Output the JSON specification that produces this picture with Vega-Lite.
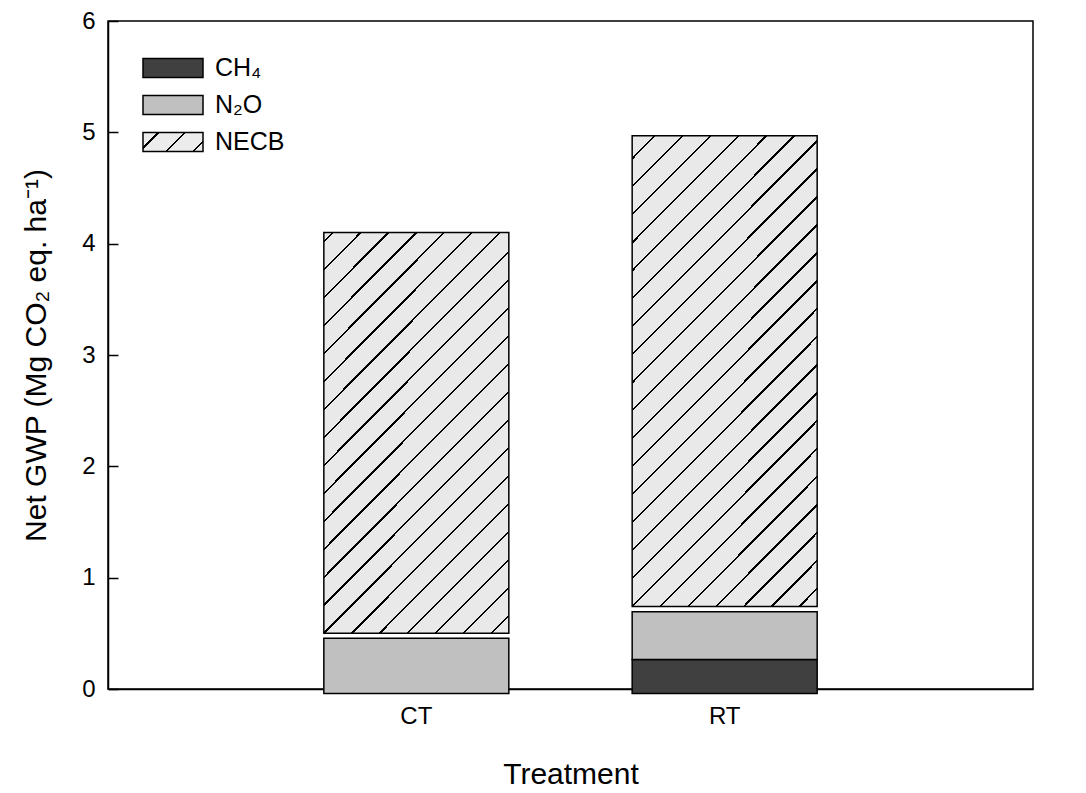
{
  "$schema": "https://vega.github.io/schema/vega-lite/v6.json",
  "autosize": "none",
  "width": 925,
  "height": 668,
  "padding": {"left": 108, "top": 21, "right": 53, "bottom": 104},
  "background": "white",
  "config": {
    "font": "Liberation Sans",
    "view": {"stroke": "black", "strokeWidth": 1.5},
    "axis": {"labelColor": "black", "titleColor": "black", "domainColor": "black", "tickColor": "black", "grid": false, "titleFontWeight": "normal", "labelFont": "Liberation Sans", "titleFont": "Liberation Sans"}
  },
  "data": {
    "values": [
      {"treatment": "CT", "component": "N₂O", "low": -0.04, "high": 0.456},
      {"treatment": "CT", "component": "NECB", "low": 0.50, "high": 4.10},
      {"treatment": "RT", "component": "CH₄", "low": -0.04, "high": 0.265},
      {"treatment": "RT", "component": "N₂O", "low": 0.265, "high": 0.694},
      {"treatment": "RT", "component": "NECB", "low": 0.74, "high": 4.97}
    ]
  },
  "encoding": {
    "x": {
      "field": "treatment", "type": "nominal", "sort": ["CT", "RT"],
      "scale": {"paddingInner": 0.4, "paddingOuter": 0.7},
      "axis": {"title": "Treatment", "labelAngle": 0, "ticks": false, "domain": true, "domainWidth": 1.5, "labelFontSize": 24, "labelPadding": 15, "titleFontSize": 30, "titlePadding": 31}
    },
    "y": {
      "field": "low", "type": "quantitative",
      "scale": {"domain": [0, 6], "nice": false, "zero": false},
      "axis": {"title": "Net GWP (Mg CO₂ eq. ha⁻¹)", "values": [0, 1, 2, 3, 4, 5, 6], "tickSize": -10, "tickWidth": 1.5, "domainWidth": 1.5, "labelFontSize": 24, "labelPadding": 23, "titleFontSize": 30, "titlePadding": 30}
    },
    "y2": {"field": "high"}
  },
  "layer": [
    {
      "transform": [{"filter": "datum.component !== 'NECB'"}],
      "mark": {"type": "bar", "stroke": "black", "strokeWidth": 1.5},
      "encoding": {
        "color": {
          "field": "component", "type": "nominal",
          "scale": {"domain": ["CH₄", "N₂O", "NECB"], "range": ["#404040", "#c0c0c0", {"expr": "{gradient: 'linear', x1: 0, y1: 0, x2: 1.1974, y2: 0.3832, stops: [{offset: 0, color: '#ececec'}, {offset: 0.1807, color: '#ececec'}, {offset: 0.1807, color: '#000000'}, {offset: 0.2107, color: '#000000'}, {offset: 0.2107, color: '#ececec'}, {offset: 0.5178, color: '#ececec'}, {offset: 0.5178, color: '#000000'}, {offset: 0.5478, color: '#000000'}, {offset: 0.5478, color: '#ececec'}, {offset: 0.8549, color: '#ececec'}, {offset: 0.8549, color: '#000000'}, {offset: 0.8849, color: '#000000'}, {offset: 0.8849, color: '#ececec'}, {offset: 1, color: '#ececec'}]}"}]},
          "legend": {
            "title": null, "orient": "none", "legendX": 49, "legendY": 31,
            "labelFontSize": 25, "labelColor": "black", "labelOffset": 26,
            "symbolType": "M-2,-0.64H2V0.64H-2Z", "symbolSize": 900,
            "symbolStrokeColor": "black", "symbolStrokeWidth": 1.5, "symbolOpacity": 1,
            "rowPadding": 8, "padding": 0
          }
        }
      }
    },
    {
      "transform": [{"filter": "datum.component === 'NECB' && datum.treatment === 'CT'"}],
      "mark": {"type": "bar", "stroke": "black", "strokeWidth": 1.5,
        "fill": {"gradient": "linear", "x1": 0, "y1": 0, "x2": 0.5588, "y2": 1.2047, "stops": [
          {"offset": 0, "color": "#e9e9e9"},
          {"offset": 0.0133, "color": "#e9e9e9"}, {"offset": 0.0133, "color": "#000000"}, {"offset": 0.0173, "color": "#000000"}, {"offset": 0.0173, "color": "#e9e9e9"},
          {"offset": 0.0610, "color": "#e9e9e9"}, {"offset": 0.0610, "color": "#000000"}, {"offset": 0.0650, "color": "#000000"}, {"offset": 0.0650, "color": "#e9e9e9"},
          {"offset": 0.1087, "color": "#e9e9e9"}, {"offset": 0.1087, "color": "#000000"}, {"offset": 0.1127, "color": "#000000"}, {"offset": 0.1127, "color": "#e9e9e9"},
          {"offset": 0.1564, "color": "#e9e9e9"}, {"offset": 0.1564, "color": "#000000"}, {"offset": 0.1604, "color": "#000000"}, {"offset": 0.1604, "color": "#e9e9e9"},
          {"offset": 0.2041, "color": "#e9e9e9"}, {"offset": 0.2041, "color": "#000000"}, {"offset": 0.2081, "color": "#000000"}, {"offset": 0.2081, "color": "#e9e9e9"},
          {"offset": 0.2518, "color": "#e9e9e9"}, {"offset": 0.2518, "color": "#000000"}, {"offset": 0.2558, "color": "#000000"}, {"offset": 0.2558, "color": "#e9e9e9"},
          {"offset": 0.2995, "color": "#e9e9e9"}, {"offset": 0.2995, "color": "#000000"}, {"offset": 0.3035, "color": "#000000"}, {"offset": 0.3035, "color": "#e9e9e9"},
          {"offset": 0.3472, "color": "#e9e9e9"}, {"offset": 0.3472, "color": "#000000"}, {"offset": 0.3512, "color": "#000000"}, {"offset": 0.3512, "color": "#e9e9e9"},
          {"offset": 0.3949, "color": "#e9e9e9"}, {"offset": 0.3949, "color": "#000000"}, {"offset": 0.3989, "color": "#000000"}, {"offset": 0.3989, "color": "#e9e9e9"},
          {"offset": 0.4426, "color": "#e9e9e9"}, {"offset": 0.4426, "color": "#000000"}, {"offset": 0.4466, "color": "#000000"}, {"offset": 0.4466, "color": "#e9e9e9"},
          {"offset": 0.4903, "color": "#e9e9e9"}, {"offset": 0.4903, "color": "#000000"}, {"offset": 0.4943, "color": "#000000"}, {"offset": 0.4943, "color": "#e9e9e9"},
          {"offset": 0.5380, "color": "#e9e9e9"}, {"offset": 0.5380, "color": "#000000"}, {"offset": 0.5420, "color": "#000000"}, {"offset": 0.5420, "color": "#e9e9e9"},
          {"offset": 0.5857, "color": "#e9e9e9"}, {"offset": 0.5857, "color": "#000000"}, {"offset": 0.5897, "color": "#000000"}, {"offset": 0.5897, "color": "#e9e9e9"},
          {"offset": 0.6334, "color": "#e9e9e9"}, {"offset": 0.6334, "color": "#000000"}, {"offset": 0.6374, "color": "#000000"}, {"offset": 0.6374, "color": "#e9e9e9"},
          {"offset": 0.6811, "color": "#e9e9e9"}, {"offset": 0.6811, "color": "#000000"}, {"offset": 0.6851, "color": "#000000"}, {"offset": 0.6851, "color": "#e9e9e9"},
          {"offset": 0.7288, "color": "#e9e9e9"}, {"offset": 0.7288, "color": "#000000"}, {"offset": 0.7328, "color": "#000000"}, {"offset": 0.7328, "color": "#e9e9e9"},
          {"offset": 0.7765, "color": "#e9e9e9"}, {"offset": 0.7765, "color": "#000000"}, {"offset": 0.7805, "color": "#000000"}, {"offset": 0.7805, "color": "#e9e9e9"},
          {"offset": 0.8242, "color": "#e9e9e9"}, {"offset": 0.8242, "color": "#000000"}, {"offset": 0.8282, "color": "#000000"}, {"offset": 0.8282, "color": "#e9e9e9"},
          {"offset": 0.8719, "color": "#e9e9e9"}, {"offset": 0.8719, "color": "#000000"}, {"offset": 0.8759, "color": "#000000"}, {"offset": 0.8759, "color": "#e9e9e9"},
          {"offset": 0.9196, "color": "#e9e9e9"}, {"offset": 0.9196, "color": "#000000"}, {"offset": 0.9236, "color": "#000000"}, {"offset": 0.9236, "color": "#e9e9e9"},
          {"offset": 0.9673, "color": "#e9e9e9"}, {"offset": 0.9673, "color": "#000000"}, {"offset": 0.9713, "color": "#000000"}, {"offset": 0.9713, "color": "#e9e9e9"},
          {"offset": 1, "color": "#e9e9e9"}
        ]}
      }
    },
    {
      "transform": [{"filter": "datum.component === 'NECB' && datum.treatment === 'RT'"}],
      "mark": {"type": "bar", "stroke": "black", "strokeWidth": 1.5,
        "fill": {"gradient": "linear", "x1": 0, "y1": 0, "x2": 0.4765, "y2": 1.2067, "stops": [
          {"offset": 0, "color": "#e9e9e9"},
          {"offset": 0.0332, "color": "#e9e9e9"}, {"offset": 0.0332, "color": "#000000"}, {"offset": 0.0368, "color": "#000000"}, {"offset": 0.0368, "color": "#e9e9e9"},
          {"offset": 0.0758, "color": "#e9e9e9"}, {"offset": 0.0758, "color": "#000000"}, {"offset": 0.0794, "color": "#000000"}, {"offset": 0.0794, "color": "#e9e9e9"},
          {"offset": 0.1184, "color": "#e9e9e9"}, {"offset": 0.1184, "color": "#000000"}, {"offset": 0.1220, "color": "#000000"}, {"offset": 0.1220, "color": "#e9e9e9"},
          {"offset": 0.1611, "color": "#e9e9e9"}, {"offset": 0.1611, "color": "#000000"}, {"offset": 0.1647, "color": "#000000"}, {"offset": 0.1647, "color": "#e9e9e9"},
          {"offset": 0.2037, "color": "#e9e9e9"}, {"offset": 0.2037, "color": "#000000"}, {"offset": 0.2073, "color": "#000000"}, {"offset": 0.2073, "color": "#e9e9e9"},
          {"offset": 0.2463, "color": "#e9e9e9"}, {"offset": 0.2463, "color": "#000000"}, {"offset": 0.2499, "color": "#000000"}, {"offset": 0.2499, "color": "#e9e9e9"},
          {"offset": 0.2889, "color": "#e9e9e9"}, {"offset": 0.2889, "color": "#000000"}, {"offset": 0.2925, "color": "#000000"}, {"offset": 0.2925, "color": "#e9e9e9"},
          {"offset": 0.3315, "color": "#e9e9e9"}, {"offset": 0.3315, "color": "#000000"}, {"offset": 0.3351, "color": "#000000"}, {"offset": 0.3351, "color": "#e9e9e9"},
          {"offset": 0.3742, "color": "#e9e9e9"}, {"offset": 0.3742, "color": "#000000"}, {"offset": 0.3778, "color": "#000000"}, {"offset": 0.3778, "color": "#e9e9e9"},
          {"offset": 0.4168, "color": "#e9e9e9"}, {"offset": 0.4168, "color": "#000000"}, {"offset": 0.4204, "color": "#000000"}, {"offset": 0.4204, "color": "#e9e9e9"},
          {"offset": 0.4594, "color": "#e9e9e9"}, {"offset": 0.4594, "color": "#000000"}, {"offset": 0.4630, "color": "#000000"}, {"offset": 0.4630, "color": "#e9e9e9"},
          {"offset": 0.5020, "color": "#e9e9e9"}, {"offset": 0.5020, "color": "#000000"}, {"offset": 0.5056, "color": "#000000"}, {"offset": 0.5056, "color": "#e9e9e9"},
          {"offset": 0.5446, "color": "#e9e9e9"}, {"offset": 0.5446, "color": "#000000"}, {"offset": 0.5482, "color": "#000000"}, {"offset": 0.5482, "color": "#e9e9e9"},
          {"offset": 0.5872, "color": "#e9e9e9"}, {"offset": 0.5872, "color": "#000000"}, {"offset": 0.5908, "color": "#000000"}, {"offset": 0.5908, "color": "#e9e9e9"},
          {"offset": 0.6299, "color": "#e9e9e9"}, {"offset": 0.6299, "color": "#000000"}, {"offset": 0.6335, "color": "#000000"}, {"offset": 0.6335, "color": "#e9e9e9"},
          {"offset": 0.6725, "color": "#e9e9e9"}, {"offset": 0.6725, "color": "#000000"}, {"offset": 0.6761, "color": "#000000"}, {"offset": 0.6761, "color": "#e9e9e9"},
          {"offset": 0.7151, "color": "#e9e9e9"}, {"offset": 0.7151, "color": "#000000"}, {"offset": 0.7187, "color": "#000000"}, {"offset": 0.7187, "color": "#e9e9e9"},
          {"offset": 0.7577, "color": "#e9e9e9"}, {"offset": 0.7577, "color": "#000000"}, {"offset": 0.7613, "color": "#000000"}, {"offset": 0.7613, "color": "#e9e9e9"},
          {"offset": 0.8003, "color": "#e9e9e9"}, {"offset": 0.8003, "color": "#000000"}, {"offset": 0.8039, "color": "#000000"}, {"offset": 0.8039, "color": "#e9e9e9"},
          {"offset": 0.8430, "color": "#e9e9e9"}, {"offset": 0.8430, "color": "#000000"}, {"offset": 0.8466, "color": "#000000"}, {"offset": 0.8466, "color": "#e9e9e9"},
          {"offset": 0.8856, "color": "#e9e9e9"}, {"offset": 0.8856, "color": "#000000"}, {"offset": 0.8892, "color": "#000000"}, {"offset": 0.8892, "color": "#e9e9e9"},
          {"offset": 0.9282, "color": "#e9e9e9"}, {"offset": 0.9282, "color": "#000000"}, {"offset": 0.9318, "color": "#000000"}, {"offset": 0.9318, "color": "#e9e9e9"},
          {"offset": 0.9708, "color": "#e9e9e9"}, {"offset": 0.9708, "color": "#000000"}, {"offset": 0.9744, "color": "#000000"}, {"offset": 0.9744, "color": "#e9e9e9"},
          {"offset": 1, "color": "#e9e9e9"}
        ]}
      }
    }
  ]
}
